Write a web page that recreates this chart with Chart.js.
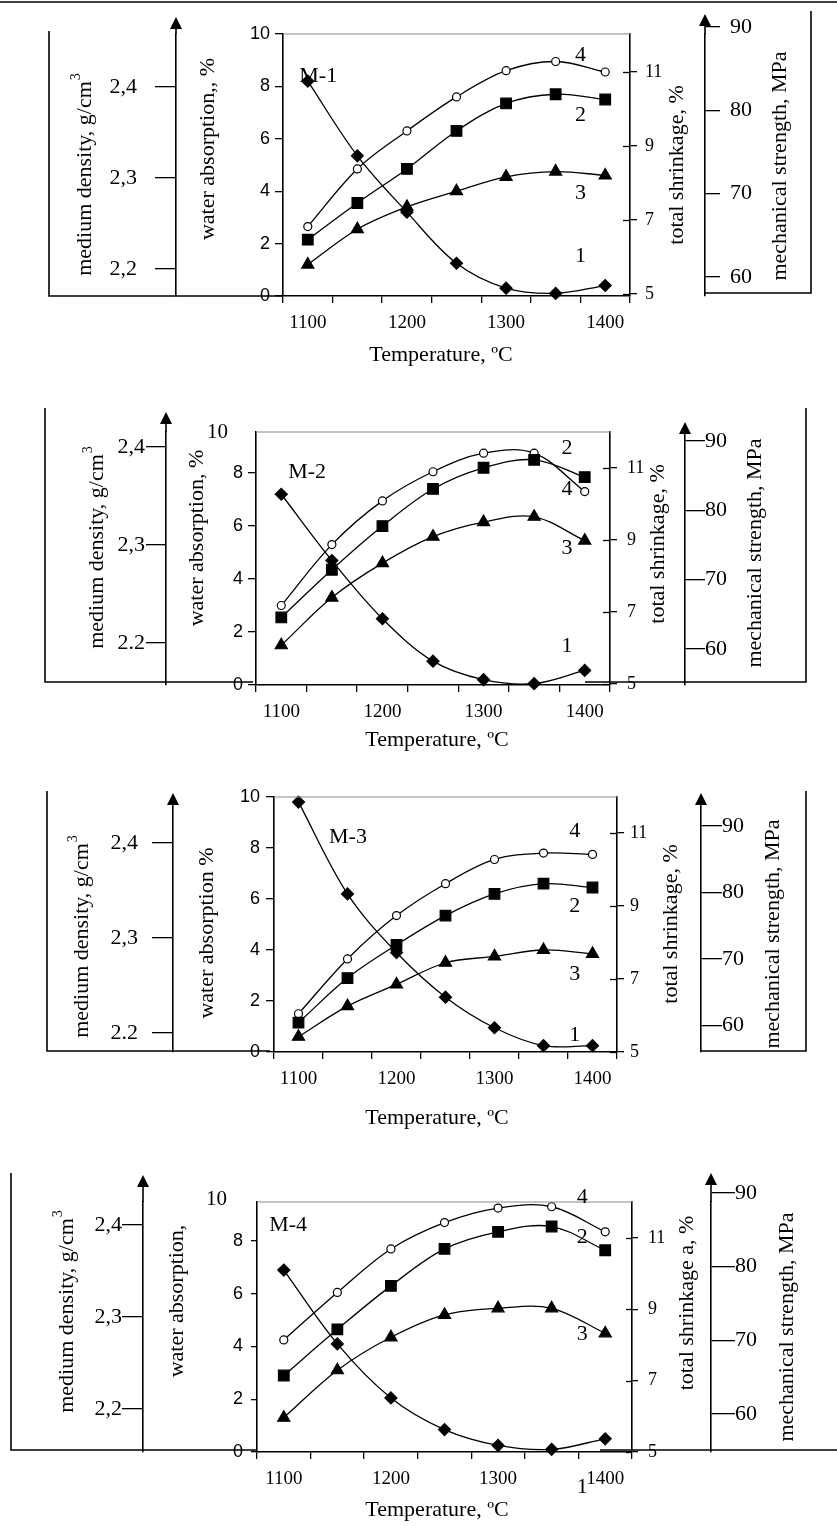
<!DOCTYPE html>
<html>
<head>
<meta charset="utf-8">
<script src="https://cdn.jsdelivr.net/npm/chart.js@4.4.0/dist/chart.umd.min.js"></script>
<style>
  html, body { margin: 0; padding: 0; background: #fff; }
  #wrap { position: relative; width: 837px; height: 1526px; }
  canvas { position: absolute; left: 0; }
</style>
</head>
<body>
<div id="wrap">
  <canvas id="c1" width="837" height="380" style="top:0px"></canvas>
  <canvas id="c2" width="837" height="380" style="top:380px"></canvas>
  <canvas id="c3" width="837" height="380" style="top:760px"></canvas>
  <canvas id="c4" width="837" height="386" style="top:1140px"></canvas>
</div>
<script>
// Firing temperature categories and axis ticks
const temps = ['1100', '1150', '1200', '1250', '1300', '1350', '1400'];
const waterTicks = [0, 2, 4, 6, 8, 10];
const shrinkTicks = [5, 7, 9, 11];
const densityTicks = [2.2, 2.3, 2.4];
const strengthTicks = [60, 70, 80, 90];
const densityLabelsComma = ['2,2', '2,3', '2,4'];
const densityLabelsDot = ['2.2', '2,3', '2,4'];

// Curves 1-4, read against the water absorption scale (0-10)
const m1Curve1 = [8.2, 5.35, 3.2, 1.25, 0.3, 0.1, 0.4];
const m1Curve2 = [2.15, 3.55, 4.85, 6.3, 7.35, 7.7, 7.5];
const m1Curve3 = [1.2, 2.55, 3.4, 4.0, 4.55, 4.75, 4.6];
const m1Curve4 = [2.65, 4.85, 6.3, 7.6, 8.6, 8.95, 8.55];

const m2Curve1 = [7.2, 4.7, 2.5, 0.9, 0.2, 0.05, 0.55];
const m2Curve2 = [2.55, 4.35, 6.0, 7.4, 8.2, 8.5, 7.85];
const m2Curve3 = [1.5, 3.3, 4.6, 5.6, 6.15, 6.35, 5.45];
const m2Curve4 = [3.0, 5.3, 6.95, 8.05, 8.75, 8.75, 7.3];

const m3Curve1 = [9.8, 6.2, 3.9, 2.15, 0.95, 0.25, 0.25];
const m3Curve2 = [1.15, 2.9, 4.2, 5.35, 6.2, 6.6, 6.45];
const m3Curve3 = [0.6, 1.8, 2.65, 3.5, 3.75, 4.0, 3.85];
const m3Curve4 = [1.5, 3.65, 5.35, 6.6, 7.55, 7.8, 7.75];

const m4Curve1 = [6.9, 4.1, 2.05, 0.85, 0.25, 0.1, 0.5];
const m4Curve2 = [2.9, 4.65, 6.3, 7.7, 8.35, 8.55, 7.65];
const m4Curve3 = [1.3, 3.1, 4.35, 5.2, 5.45, 5.45, 4.5];
const m4Curve4 = [4.25, 6.05, 7.7, 8.7, 9.25, 9.3, 8.35];

const SERIF = '"Liberation Serif", "Times New Roman", serif';
const SANS = '"Liberation Sans", Arial, sans-serif';

// Layout of each panel (pixels inside its canvas)
const panels = [
  {
    id: 'c1', h: 380, name: 'M-1',
    curves: [m1Curve1, m1Curve2, m1Curve3, m1Curve4],
    top: 34, bottom: 296, left: 283, right: 630, densX: 176, strX: 705,
    waterMax: 10, waterTL: 8, waterPad: 5,
    dens: [2.1703, 2.4582], densTL: 21, densPad: 18, densLabels: densityLabelsComma,
    shr: [4.946, 12.027], shrTL: 7, shrPad: 8,
    str: [57.72, 89.16], strTL: 15, strPad: 10,
    densTip: 17, strTip: 14,
    frame: [[[0, 2], [837, 2]], [[49, 31], [49, 296], [283, 296]], [[705, 293], [811, 293], [811, 11]]],
    titles: {dens: [85, 175], water: [208, 149], shr: [677, 165], str: [780, 166], x: [441, 355]},
    waterTitle: 'water absorption,, %', shrTitle: 'total shrinkage, %',
    notes: [['M-1', 0.21, 8.4], ['4', 5.5, 9.2], ['2', 5.5, 6.9], ['3', 5.5, 3.93], ['1', 5.5, 1.53]]
  },
  {
    id: 'c2', h: 380, name: 'M-2',
    curves: [m2Curve1, m2Curve2, m2Curve3, m2Curve4],
    top: 52, bottom: 305, left: 256, right: 610, densX: 166, strX: 685,
    waterMax: 9.55, waterTL: 8, waterPad: 5, top10: [228, 52],
    dens: [2.1571, 2.4153], densTL: 20, densPad: 1, densLabels: densityLabelsDot,
    shr: [4.972, 12.0], shrTL: 7, shrPad: 10,
    str: [54.8, 91.3], strTL: 20, strPad: 0,
    densTip: 32, strTip: 42,
    frame: [[[45, 28], [45, 302], [253, 302]], [[585, 302], [806, 302], [806, 28]]],
    titles: {dens: [97, 168], water: [197, 158], shr: [658, 164], str: [755, 173], x: [437, 360]},
    waterTitle: 'water absorption, %', shrTitle: 'total shrinkage, %',
    notes: [['M-2', 0.51, 8.04], ['2', 5.65, 8.94], ['4', 5.65, 7.4], ['3', 5.65, 5.17], ['1', 5.65, 1.47]]
  },
  {
    id: 'c3', h: 380, name: 'M-3',
    curves: [m3Curve1, m3Curve2, m3Curve3, m3Curve4],
    top: 37, bottom: 292, left: 274, right: 617, densX: 173, strX: 701,
    waterMax: 10, waterTL: 8, waterPad: 6,
    dens: [2.18, 2.4484], densTL: 21, densPad: 14, densLabels: densityLabelsDot,
    shr: [5, 11.986], shrTL: 7, shrPad: 6,
    str: [56.0, 94.36], strTL: 21, strPad: 0,
    densTip: 33, strTip: 33,
    frame: [[[47, 31], [47, 291], [270, 291]], [[701, 291], [806, 291], [806, 31]]],
    titles: {dens: [82, 177], water: [207, 173], shr: [671, 164], str: [773, 174], x: [437, 358]},
    waterTitle: 'water absorption %', shrTitle: 'total shrinkage, %',
    notes: [['M-3', 1.01, 8.43], ['4', 5.64, 8.67], ['2', 5.64, 5.73], ['3', 5.64, 3.06], ['1', 5.64, 0.67]]
  },
  {
    id: 'c4', h: 386, name: 'M-4',
    curves: [m4Curve1, m4Curve2, m4Curve3, m4Curve4],
    top: 62, bottom: 312, left: 257, right: 632, densX: 143, strX: 711,
    waterMax: 9.48, waterTL: 6, waterPad: 8, top10: [227, 59],
    dens: [2.1533, 2.425], densTL: 21, densPad: 0, densLabels: densityLabelsComma,
    shr: [5, 12.01], shrTL: 6, shrPad: 10,
    str: [54.84, 88.78], strTL: 24, strPad: 0,
    densTip: 35, strTip: 33,
    frame: [[[11, 33], [11, 310], [257, 310]], [[600, 310], [837, 310]]],
    titles: {dens: [67, 172], water: [177, 161], shr: [687, 163], str: [787, 187], x: [437, 370]},
    waterTitle: 'water absorption,', shrTitle: 'total shrinkage a, %',
    notes: [['M-4', 0.08, 8.6], ['4', 5.57, 9.67], ['2', 5.57, 8.15], ['3', 5.57, 4.47], ['1', 5.57, -1.33]]
  }
];

// vertical title reading bottom to top, optional superscript at its end
function vText(ctx, text, sup, x, y, size) {
  ctx.save();
  ctx.translate(x, y);
  ctx.rotate(-Math.PI / 2);
  ctx.font = size + 'px ' + SERIF;
  const w = ctx.measureText(text).width;
  let sw = 0;
  if (sup) {
    ctx.font = Math.round(size * 0.62) + 'px ' + SERIF;
    sw = ctx.measureText(sup).width;
  }
  const x0 = -(w + sw) / 2;
  ctx.textAlign = 'left';
  ctx.textBaseline = 'middle';
  ctx.font = size + 'px ' + SERIF;
  ctx.fillText(text, x0, 0);
  if (sup) {
    ctx.font = Math.round(size * 0.62) + 'px ' + SERIF;
    ctx.fillText(sup, x0 + w + 1, -size * 0.38);
  }
  ctx.restore();
}

function arrow(ctx, x, fromY, tipY) {
  ctx.beginPath();
  ctx.moveTo(x, fromY);
  ctx.lineTo(x, tipY + 8);
  ctx.stroke();
  ctx.beginPath();
  ctx.moveTo(x, tipY);
  ctx.lineTo(x - 6, tipY + 12);
  ctx.lineTo(x + 6, tipY + 12);
  ctx.closePath();
  ctx.fill();
}

function makeDecor(p) {
  return {
    id: 'decor_' + p.id,
    afterDraw(chart) {
      const ctx = chart.ctx;
      const a = chart.chartArea;
      const xs = chart.scales.x;
      const ys = chart.scales.y;
      const shr = chart.scales.shr;
      ctx.save();
      ctx.strokeStyle = '#000';
      ctx.fillStyle = '#000';
      ctx.lineWidth = 1.6;
      p.frame.forEach(pts => {
        ctx.beginPath();
        pts.forEach(([x, y], i) => i ? ctx.lineTo(x, y) : ctx.moveTo(x, y));
        ctx.stroke();
      });
      arrow(ctx, chart.scales.dens.right, a.top, p.densTip);
      arrow(ctx, chart.scales.str.left, a.top, p.strTip);

      // shrinkage ticks also reach inside the plot box
      ctx.lineWidth = 1.3;
      shrinkTicks.forEach(v => {
        const y = Math.round(shr.getPixelForValue(v)) + 0.5;
        ctx.beginPath();
        ctx.moveTo(shr.left - p.shrTL, y);
        ctx.lineTo(shr.left, y);
        ctx.stroke();
      });

      // top edge of the plot box
      ctx.strokeStyle = '#8c8c8c';
      ctx.lineWidth = 1.2;
      ctx.beginPath();
      ctx.moveTo(a.left, a.top);
      ctx.lineTo(a.right, a.top);
      ctx.stroke();

      // axis titles
      const t = p.titles;
      vText(ctx, 'medium density, g/cm', '3', t.dens[0], t.dens[1], 22);
      vText(ctx, p.waterTitle, null, t.water[0], t.water[1], 22);
      vText(ctx, p.shrTitle, null, t.shr[0], t.shr[1], 22);
      vText(ctx, 'mechanical strength, MPa', null, t.str[0], t.str[1], 22);
      ctx.font = '22px ' + SERIF;
      ctx.textAlign = 'center';
      ctx.textBaseline = 'middle';
      ctx.fillText('Temperature, \u00BAC', t.x[0], t.x[1]);

      if (p.top10) {
        ctx.font = '21px ' + SERIF;
        ctx.textAlign = 'right';
        ctx.fillText(String(waterTicks[waterTicks.length - 1]), p.top10[0], p.top10[1]);
      }

      // sample name and curve numbers
      ctx.font = '22px ' + SERIF;
      ctx.textAlign = 'center';
      p.notes.forEach(([txt, xv, yv]) => {
        ctx.fillText(txt, xs.getPixelForValue(xv), ys.getPixelForValue(yv));
      });
      ctx.restore();
    }
  };
}

function lineSet(data, style, radius, fill) {
  return {
    data: data,
    borderColor: '#000',
    borderWidth: 1.3,
    tension: 0.35,
    pointStyle: style,
    pointRadius: radius,
    pointBackgroundColor: fill,
    pointBorderColor: '#000',
    pointBorderWidth: 1.2,
    clip: false
  };
}

panels.forEach(p => {
  const canvas = document.getElementById(p.id);
  const tickFont = {family: SERIF, size: 19};
  new Chart(canvas, {
    type: 'line',
    data: {
      labels: temps,
      datasets: [
        lineSet(p.curves[0], 'rectRot', 6, '#000'),
        lineSet(p.curves[1], 'rect', 7.5, '#000'),
        lineSet(p.curves[2], 'triangle', 7, '#000'),
        lineSet(p.curves[3], 'circle', 4, '#fff')
      ]
    },
    options: {
      responsive: false,
      animation: false,
      devicePixelRatio: 1,
      layout: {padding: {top: p.top, left: 0, right: 0, bottom: 0}},
      plugins: {legend: {display: false}, tooltip: {enabled: false}},
      scales: {
        x: {
          type: 'category',
          position: 'bottom',
          offset: true,
          grid: {offset: true, drawOnChartArea: false, tickLength: 7, color: '#000', lineWidth: 1.3},
          border: {color: '#000', width: 1.6},
          ticks: {
            autoSkip: false, maxRotation: 0, padding: 9, color: '#000', font: tickFont,
            callback: (v, i) => (i % 2 ? '' : temps[i])
          },
          afterFit: s => { s.height = p.h - p.bottom; }
        },
        y: {
          type: 'linear', position: 'left', weight: 0,
          min: 0, max: p.waterMax,
          afterBuildTicks: s => { s.ticks = waterTicks.filter(v => v <= p.waterMax + 1e-6).map(v => ({value: v})); },
          afterFit: s => { s.width = p.left - p.densX; },
          grid: {drawOnChartArea: false, tickLength: p.waterTL, color: '#000', lineWidth: 1.3},
          border: {color: '#000', width: 1.6},
          ticks: {padding: p.waterPad, color: '#000', font: {family: SANS, size: 18}}
        },
        dens: {
          type: 'linear', position: 'left', weight: 1,
          min: p.dens[0], max: p.dens[1],
          afterBuildTicks: s => { s.ticks = densityTicks.map(v => ({value: v})); },
          afterFit: s => { s.width = p.densX; },
          grid: {drawOnChartArea: false, tickLength: p.densTL, color: '#000', lineWidth: 1.3},
          border: {color: '#000', width: 1.6},
          ticks: {padding: p.densPad, color: '#000', font: {family: SERIF, size: 22},
            callback: (v, i) => p.densLabels[i]}
        },
        shr: {
          type: 'linear', position: 'right', weight: 0,
          min: p.shr[0], max: p.shr[1],
          afterBuildTicks: s => { s.ticks = shrinkTicks.map(v => ({value: v})); },
          afterFit: s => { s.width = p.strX - p.right; },
          grid: {drawOnChartArea: false, tickLength: p.shrTL, color: '#000', lineWidth: 1.3},
          border: {color: '#000', width: 1.6},
          ticks: {padding: p.shrPad, color: '#000', font: {family: SERIF, size: 18}}
        },
        str: {
          type: 'linear', position: 'right', weight: 1,
          min: p.str[0], max: p.str[1],
          afterBuildTicks: s => { s.ticks = strengthTicks.map(v => ({value: v})); },
          afterFit: s => { s.width = 837 - p.strX; },
          grid: {drawOnChartArea: false, tickLength: p.strTL, color: '#000', lineWidth: 1.3},
          border: {color: '#000', width: 1.6},
          ticks: {padding: p.strPad, color: '#000', font: {family: SERIF, size: 22}}
        }
      }
    },
    plugins: [makeDecor(p)]
  });
});
</script>
</body>
</html>
